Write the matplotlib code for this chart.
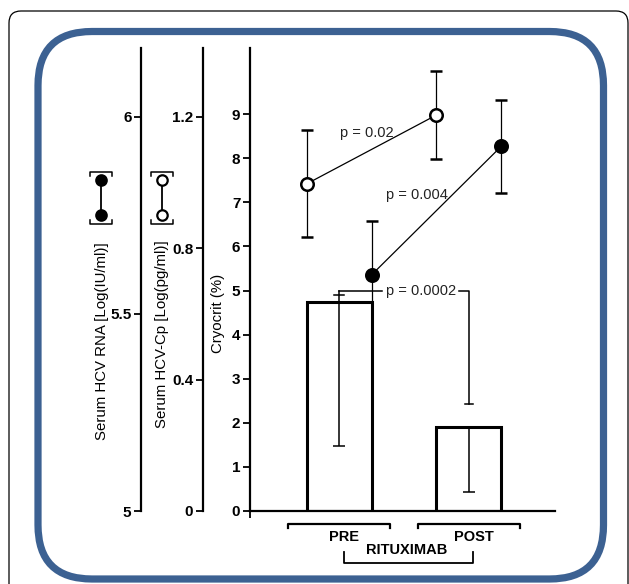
import numpy as np
import matplotlib
matplotlib.use('Agg')
import matplotlib.pyplot as plt
from matplotlib.patches import FancyBboxPatch

plt.rcParams['font.family'] = ['Liberation Sans', 'DejaVu Sans']

# valores
grupos = ['PRE', 'POST']
crio_media = [4.75, 1.90]        # Cryocrit (%)
crio_inferior = [1.48, 0.43]     # extremo inferior de la barra de error
cp_media = [0.996, 1.206]        # HCV-Cp Log(pg/ml)
cp_err = [0.163, 0.135]
rna_media = [5.599, 5.926]       # HCV RNA Log(IU/ml)
rna_err = [0.137, 0.118]
p_textos = ['p = 0.02', 'p = 0.004', 'p = 0.0002']

W, H = 629, 584
fig = plt.figure(figsize=(W / 100, H / 100), dpi=100)


def caja(x0, y0, x1, y1):
    """Convierte pixeles (desde arriba) a fracciones de la figura."""
    return [x0 / W, 1 - y1 / H, (x1 - x0) / W, (y1 - y0) / H]


# fondo con los marcos
fondo = fig.add_axes([0, 0, 1, 1], zorder=-1)
fondo.set_xlim(0, W)
fondo.set_ylim(H, 0)
fondo.axis('off')
fondo.add_patch(FancyBboxPatch((9, 11), 619, 600, boxstyle='round,pad=0,rounding_size=12',
                               fc='white', ec='black', lw=0.9, clip_on=False))
fondo.add_patch(FancyBboxPatch((38, 31.5), 565.5, 547.5, boxstyle='round,pad=0,rounding_size=54',
                               fc='none', ec='#3c6192', lw=5.2))

# leyenda (simbolos junto a los ejes)
for xc, relleno in [(101, 'black'), (162, 'white')]:
    fondo.plot([xc - 11, xc - 11, xc + 11, xc + 11], [176, 172, 172, 176], color='black', lw=1.1)
    fondo.plot([xc - 11, xc - 11, xc + 11, xc + 11], [220, 224, 224, 220], color='black', lw=1.1)
    fondo.plot([xc, xc], [180, 215], color='black', lw=1.3, marker='o', ms=7.5,
               mfc=relleno, mec='black', mew=1.6)

fondo.text(102, 341, 'Serum HCV RNA [Log(IU/ml)]', rotation=90, ha='center', va='center', fontsize=10.8)
fondo.text(162, 334, 'Serum HCV-Cp [Log(pg/ml)]', rotation=90, ha='center', va='center', fontsize=10.8)
fondo.text(218, 313, 'Cryocrit (%)', rotation=90, ha='center', va='center', fontsize=10.8)

# eje principal: crioprecipitado
ax = fig.add_axes(caja(250, 48, 555, 511))
ax.set_facecolor('none')
x = np.arange(len(grupos))
ax.bar(x, crio_media, width=0.5, color='white', edgecolor='black', linewidth=2.2, zorder=2)
abajo = np.array(crio_media) - np.array(crio_inferior)
ax.errorbar(x, crio_media, yerr=[abajo, np.zeros(len(x))], fmt='none', ecolor='black',
            elinewidth=1.1, capsize=4, capthick=1.1, zorder=3)
ax.set_xlim(-0.685, 1.662)
ax.set_ylim(0, 10.5)
ax.spines['top'].set_visible(False)
ax.spines['right'].set_visible(False)
ax.spines['left'].set_linewidth(1.6)
ax.spines['bottom'].set_linewidth(1.6)
ax.set_yticks(range(10))
ax.set_xticks([-0.685])
ax.set_xticklabels([''])
ax.tick_params(direction='out', length=5, width=1.3, labelsize=11, pad=2)
for t in ax.get_yticklabels():
    t.set_fontweight('bold')

# corchete de p = 0.0002
yb = 4.99
ax.plot([x[0], x[0]], [crio_media[0], yb], color='black', lw=1.1, zorder=3)
ax.plot([x[0] - 0.04, x[0] + 0.04], [4.9, 4.9], color='black', lw=1.1, zorder=3)
ax.plot([x[0], 0.33], [yb, yb], color='black', lw=1.1, zorder=3)
ax.plot([0.92, x[1], x[1]], [yb, yb, 2.43], color='black', lw=1.1, zorder=3)
ax.plot([x[1] - 0.03, x[1] + 0.03], [2.43, 2.43], color='black', lw=1.1, zorder=3)

ax.text(0.215, 8.57, p_textos[0], ha='center', va='center', fontsize=10.5, color='#222222')
ax.text(0.60, 7.16, p_textos[1], ha='center', va='center', fontsize=10.5, color='#222222')
ax.text(0.63, 4.99, p_textos[2], ha='center', va='center', fontsize=10.5, color='#222222', zorder=5)

# corchetes y etiquetas bajo el eje
tr = ax.get_xaxis_transform()
for xi, nombre in zip(x, grupos):
    ax.plot([xi - 0.39, xi - 0.39, xi + 0.39, xi + 0.39], [-0.037, -0.028, -0.028, -0.037],
            transform=tr, clip_on=False, color='black', lw=1.6)
    ax.text(xi + 0.035, -0.056, nombre, transform=tr, ha='center', va='center',
            fontsize=10.5, fontweight='bold')
ax.plot([x[0] + 0.04, x[0] + 0.04, x[1] + 0.03, x[1] + 0.03], [-0.088, -0.112, -0.112, -0.088],
        transform=tr, clip_on=False, color='black', lw=1.3)
ax.text(0.523, -0.084, 'RITUXIMAB', transform=tr, ha='center', va='center',
        fontsize=10.5, fontweight='bold')

# eje HCV-Cp (circulos abiertos)
ax_cp = ax.twinx()
ax_cp.set_ylim(0, 1.410)
for s in ['top', 'right', 'bottom']:
    ax_cp.spines[s].set_visible(False)
ax_cp.spines['left'].set_visible(True)
ax_cp.spines['left'].set_position(('axes', -0.154))
ax_cp.spines['left'].set_linewidth(1.6)
ax_cp.yaxis.set_ticks_position('left')
ax_cp.set_yticks([0, 0.4, 0.8, 1.2])
ax_cp.set_yticklabels(['0', '0.4', '0.8', '1.2'], fontweight='bold')
ax_cp.tick_params(direction='out', length=5, width=1.3, labelsize=11, pad=2)
ax_cp.errorbar(x - 0.25, cp_media, yerr=cp_err, fmt='o-', color='black', mfc='white',
               mec='black', ms=9, mew=1.8, lw=0.9, elinewidth=0.9, capsize=4, capthick=0.9)

# eje HCV RNA (circulos llenos), por debajo de las barras
ax_rna = ax.twinx()
ax_rna.set_zorder(-0.5)
ax_rna.set_ylim(5, 6.175)
for s in ['top', 'right', 'bottom']:
    ax_rna.spines[s].set_visible(False)
ax_rna.spines['left'].set_visible(True)
ax_rna.spines['left'].set_position(('axes', -0.357))
ax_rna.spines['left'].set_linewidth(1.6)
ax_rna.yaxis.set_ticks_position('left')
ax_rna.set_yticks([5, 5.5, 6])
ax_rna.set_yticklabels(['5', '5.5', '6'], fontweight='bold')
ax_rna.tick_params(direction='out', length=5, width=1.3, labelsize=11, pad=2)
_, tapas, _ = ax_rna.errorbar(x + 0.25, rna_media, yerr=rna_err, fmt='o-', color='black',
                              mfc='black', mec='black', ms=9, mew=1.8, lw=0.9,
                              elinewidth=0.9, capsize=4, capthick=0.9)
# la tapa inferior del punto PRE queda oculta tras la barra en el original
for tapa in tapas:
    if tapa.get_ydata()[0] < rna_media[0]:
        tapa.set_markevery([1])

fig.savefig('out.png', dpi=100)
